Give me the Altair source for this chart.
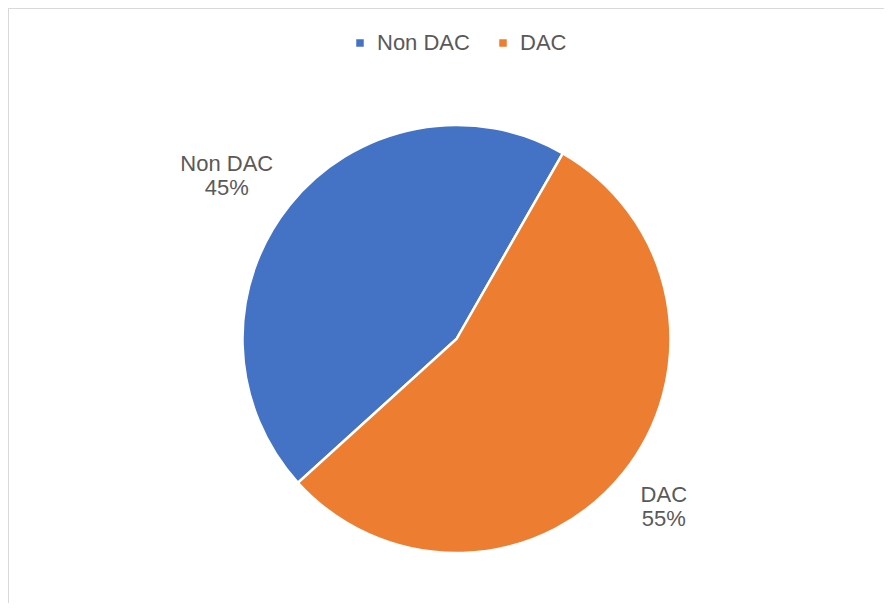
import altair as alt
import pandas as pd
import math

categories = ["Non DAC", "DAC"]
values = [45, 55]
colors = ["#4472C4", "#ED7D31"]

df = pd.DataFrame({"cat": categories, "value": values})

start = math.radians(29.8)
theta_scale = alt.Scale(range=[start, start + 2 * math.pi])
cx, cy = 448.5, 331

base = alt.Chart(df).encode(
    theta=alt.Theta("value:Q", stack=True, scale=theta_scale),
    x=alt.value(cx),
    y=alt.value(cy),
)

pie = base.mark_arc(radius=214, stroke="white", strokeWidth=2.5).encode(
    color=alt.Color(
        "cat:N",
        scale=alt.Scale(domain=categories, range=colors),
        legend=alt.Legend(
            title=None,
            orient="none",
            direction="horizontal",
            legendX=341,
            legendY=24,
            symbolType="square",
            symbolSize=81,
            labelFontSize=22,
            labelFont="Liberation Sans",
            labelColor="#595959",
            columnPadding=22,
            symbolOffset=0,
            labelOffset=6,
        ),
    )
)

lbl = base.transform_calculate(
    label="[datum.cat, format(datum.value / 100, '.0%')]"
)

t1 = lbl.mark_text(
    radius=282, dx=-10, dy=2, fontSize=22, font="Liberation Sans", color="#595959",
    lineHeight=24, align="center", baseline="middle"
).encode(
    text=alt.condition(alt.datum.cat == "Non DAC", alt.Text("label:N"), alt.value(""))
)
t2 = lbl.mark_text(
    radius=266, dy=-11, fontSize=22, font="Liberation Sans", color="#595959",
    lineHeight=24, align="center", baseline="middle"
).encode(
    text=alt.condition(alt.datum.cat == "DAC", alt.Text("label:N"), alt.value(""))
)

top_border = alt.Chart(df).mark_rule(color="#d9d9d9", strokeWidth=2).encode(
    x=alt.value(0), x2=alt.value(900), y=alt.value(0)
)
left_border = alt.Chart(df).mark_rule(color="#d9d9d9", strokeWidth=2).encode(
    x=alt.value(0), y=alt.value(0), y2=alt.value(620)
)

chart = alt.layer(top_border, left_border, pie, t1, t2).properties(
    width=876, height=595,
    autosize=alt.AutoSizeParams(type="none"),
    padding=0,
).configure_view(stroke=None)

chart.save("out.html", embed_options={"renderer": "svg", "actions": False})
